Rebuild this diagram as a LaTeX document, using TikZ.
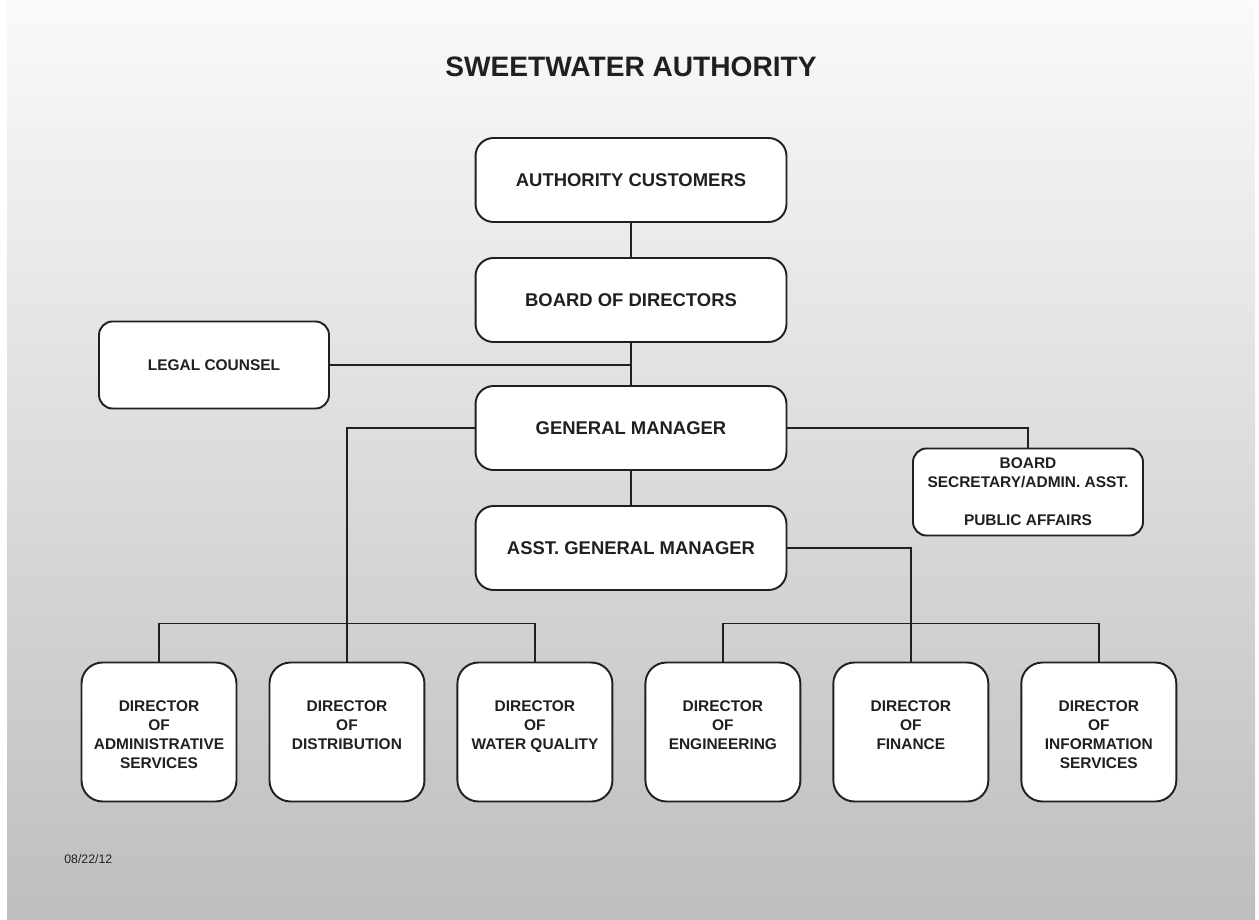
\documentclass[tikz,border=0pt]{standalone}
\usepackage{fontspec}
\setmainfont{Liberation Sans}
\usepackage{tikz}
\usetikzlibrary{positioning}
\definecolor{ink}{RGB}{35,31,32}
\definecolor{bgtop}{RGB}{250,250,251}
\definecolor{bgbot}{RGB}{190,190,190}
\tikzset{node distance=0.66cm,
  box/.style={draw=ink, line width=1.1pt, fill=white, rounded corners=0.36cm,
    inner sep=0pt, outer sep=0pt, text=ink, font=\fontsize{10.5}{12.6}\selectfont\bfseries},
  bigbox/.style={box, minimum width=6.22cm, minimum height=1.68cm},
  sidebox/.style={box, rounded corners=0.27cm, minimum width=4.6cm, minimum height=1.74cm,
    align=center, font=\fontsize{8.8}{10.8}\selectfont\bfseries},
  dirbox/.style={box, rounded corners=0.42cm, minimum width=3.1cm, minimum height=2.78cm,
    font=\fontsize{8.8}{10.8}\selectfont\bfseries},
  wire/.style={draw=ink, line width=1.1pt}
}
\newcommand{\dirlines}[1]{\parbox[c][2.78cm][t]{3.0cm}{\centering\vspace*{0.76cm}#1}}

\begin{document}
\begin{tikzpicture}[x=0.02cm, y=-0.02cm]
\useasboundingbox (0,0) rectangle (1259,920);
\fill[white] (0,0) rectangle (1259,920);
\fill[top color=bgtop, bottom color=bgbot] (7,0) rectangle (1255,920);

\node[anchor=base, inner sep=0pt, text=ink, font=\fontsize{16}{19}\selectfont\bfseries]
  (title) at (631,76) {SWEETWATER AUTHORITY};

% top of the chart
\node[bigbox] (cust) at (631,180) {AUTHORITY CUSTOMERS};
\node[bigbox] (board) at (631,300) {BOARD OF DIRECTORS};
\node[bigbox] (gm) at (631,428) {GENERAL MANAGER};
\node[bigbox] (agm) at (631,548) {ASST. GENERAL MANAGER};
\node[sidebox] (legal) at (214,365) {LEGAL COUNSEL};
\node[sidebox] (bsec) at (1028,492) {BOARD\\SECRETARY/ADMIN. ASST.\\[10.8pt]PUBLIC AFFAIRS};

% directors
\node[dirbox] (adm) at (159,732) {\dirlines{DIRECTOR\\OF\\ADMINISTRATIVE\\SERVICES}};
\node[dirbox, right=of adm] (dist) {\dirlines{DIRECTOR\\OF\\DISTRIBUTION}};
\node[dirbox, right=of dist] (wq) {\dirlines{DIRECTOR\\OF\\WATER QUALITY}};
\node[dirbox, right=of wq] (eng) {\dirlines{DIRECTOR\\OF\\ENGINEERING}};
\node[dirbox, right=of eng] (fin) {\dirlines{DIRECTOR\\OF\\FINANCE}};
\node[dirbox, right=of fin] (info) {\dirlines{DIRECTOR\\OF\\INFORMATION\\SERVICES}};

\node[anchor=base west, inner sep=0pt, text=ink, font=\fontsize{7}{8}\selectfont]
  (date) at (64,863) {08/22/12};

% lines
\draw[wire] (cust) -- (board);
\draw[wire] (board) -- (gm);
\draw[wire] (gm) -- (agm);
\draw[wire] (legal.east) -- (legal.east -| board.south);
\draw[wire] (gm.west) -| (dist.north);
\draw[wire] (gm.east) -| (bsec.north);
\draw[wire] (agm.east) -| (fin.north);
\draw[wire] (adm.north) -- ++(0,-39) -| (wq.north);
\draw[wire] (eng.north) -- ++(0,-39) -| (info.north);
\end{tikzpicture}
\end{document}
